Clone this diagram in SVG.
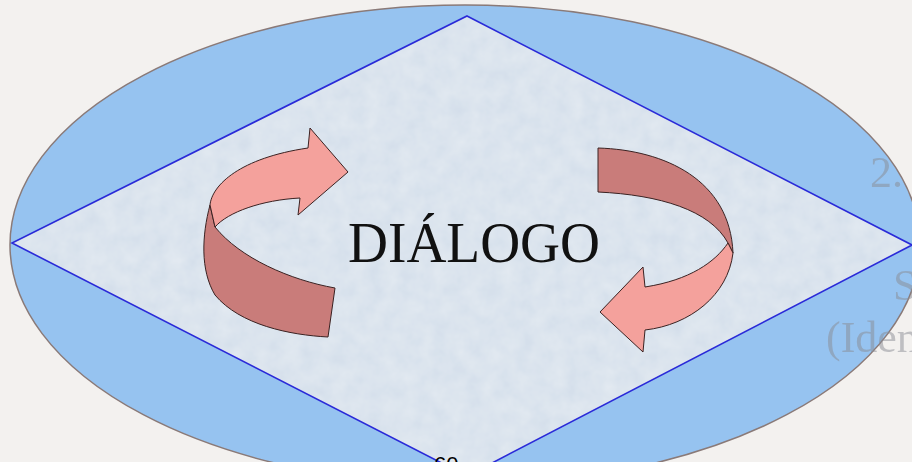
<svg xmlns="http://www.w3.org/2000/svg" width="912" height="462" viewBox="0 0 912 462">
<defs>
<style>
.ghost{font-family:"Liberation Serif",serif;fill:#8a8c94;opacity:0.5;font-size:44px}
.dark{fill:#c97c7a;stroke:#3a2222;stroke-width:1}
.light{fill:#f4a19c;stroke:#3a2222;stroke-width:1}
</style>
<filter id="tex" x="0" y="0" width="100%" height="100%">
<feTurbulence type="fractalNoise" baseFrequency="0.06" numOctaves="3" seed="4" result="n"/>
<feColorMatrix in="n" type="matrix" values="0 0 0 0 1  0 0 0 0 1  0 0 0 0 1  0 0 0 0.35 0" result="w"/>
<feComposite in="w" in2="SourceGraphic" operator="in" result="wc"/>
<feMerge><feMergeNode in="SourceGraphic"/><feMergeNode in="wc"/></feMerge>
</filter>
</defs>
<rect width="912" height="462" fill="#f3f1ef"/>
<g id="ellipse">
<ellipse cx="465" cy="245" rx="455" ry="240" fill="#96c3f0" stroke="#8a7a78" stroke-width="1.5"/>
</g>
<g id="diamond">
<polygon points="467,16 912,245 467,476 12,243" fill="#d3deea" filter="url(#tex)"/>
<polygon points="467,16 912,245 467,476 12,243" fill="none" stroke="#2a2ad8" stroke-width="1.6"/>
</g>
<g id="ghost-text">
<text class="ghost" x="870" y="187">2.</text>
<text class="ghost" x="893" y="300">S</text>
<text class="ghost" x="826" y="352">(Iden</text>
</g>
<g id="connectors">
<g id="arrow-left">
<path class="dark" d="M210,205 C202,235 200,270 215,295 C240,325 290,335 328,337 L335,288 C290,280 240,258 215,227 Z"/>
<path class="light" d="M308,148 L310,128 L348,172 L298,215 L300,198 C262,200 228,212 215,227 L210,205 C212,185 240,158 308,148 Z"/>
</g>
<g id="arrow-right">
<path class="dark" d="M598,148 C665,150 730,180 733,253 L728,243 C710,210 660,195 598,192 Z"/>
<path class="light" d="M728,243 C715,262 690,280 645,287 L643,267 L600,312 L643,352 L645,330 C690,325 728,295 733,253 Z"/>
</g>
</g>
<g id="label">
<text x="348" y="262" font-family="'Liberation Serif',serif" font-size="58" fill="#111" textLength="252" lengthAdjust="spacingAndGlyphs">DIÁLOGO</text>
</g>
<g id="page-number">
<text x="434" y="472" font-family="'Liberation Sans',sans-serif" font-size="22" fill="#000">60</text>
</g>
</svg>
